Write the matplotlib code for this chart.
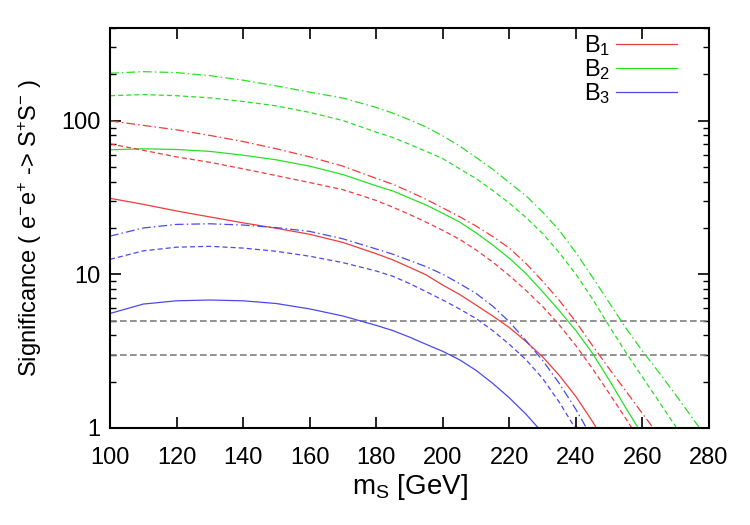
import numpy as np
import matplotlib
matplotlib.use('Agg')
import matplotlib.pyplot as plt

plt.rcParams['font.family'] = ['Liberation Sans', 'DejaVu Sans']
plt.rcParams['mathtext.fontset'] = 'custom'
plt.rcParams['mathtext.rm'] = 'Liberation Sans'
plt.rcParams['mathtext.it'] = 'Liberation Sans:italic'
plt.rcParams['mathtext.default'] = 'regular'

# scalar mass (GeV): coarse at low mass, finer where the curves fall off
mass = [100, 110, 120, 130, 140, 150, 160, 170,
        180, 185, 190, 195, 200, 205, 210, 215, 220, 225, 230,
        235, 240, 245, 250, 255, 260, 265, 270, 275, 280]
nan = np.nan

# B1 (red)
b1_solid = [31.2, 28.5, 25.8, 23.6, 21.6, 19.9, 18.2, 16.1,
            13.6, 12.4, 11.1, 9.9, 8.5, 7.4, 6.3, 5.35, 4.5, 3.65, 2.9,
            2.2, 1.6, 1.1, 0.72, nan, nan, nan, nan, nan, nan]
b1_dashed = [70.5, 64, 58, 53.5, 48.5, 43.8, 39.5, 35.5,
             30.2, 27.3, 24.5, 21.8, 19.3, 16.9, 14.4, 12.0, 9.8, 7.85, 6.17,
             4.68, 3.43, 2.43, 1.68, 1.15, 0.78, nan, nan, nan, nan]
b1_dashdot = [99.5, 93, 87, 80, 73, 65.5, 58, 50.5,
              42, 38.5, 34.5, 30.7, 27, 23.7, 20.6, 17.6, 14.8, 11.75, 9.0,
              6.76, 4.9, 3.43, 2.43, 1.74, 1.24, 0.89, nan, nan, nan]
# B2 (green)
b2_solid = [64.5, 65.5, 64.8, 63, 59.5, 55.5, 50.5, 44.5,
            37.6, 34.8, 31.3, 28.2, 24.9, 21.9, 18.6, 15.5, 12.7, 10.1, 7.7,
            5.8, 4.3, 3.05, 2.05, 1.35, 0.9, nan, nan, nan, nan]
b2_dashed = [145, 147.5, 145, 140.5, 133, 124.5, 113, 100,
             84, 77.5, 70, 63, 56.5, 48.6, 41.9, 35.1, 29.0, 23.4, 18.4,
             13.8, 10, 6.9, 4.6, 3.1, 2.14, 1.48, 1.02, 0.71, 0.49]
b2_dashdot = [203, 208, 205, 196, 183, 168, 153, 140,
              121.6, 111.7, 101, 90.8, 79.4, 68.4, 57.5, 48.2, 39.4, 32.4, 25.4,
              19.3, 13.8, 9.55, 6.53, 4.47, 3.16, 2.29, 1.64, 1.16, 0.82]
# B3 (blue)
b3_solid = [5.56, 6.4, 6.72, 6.8, 6.72, 6.45, 5.95, 5.35,
            4.65, 4.3, 3.9, 3.5, 3.15, 2.78, 2.37, 1.95, 1.57, 1.23, 0.93,
            nan, nan, nan, nan, nan, nan, nan, nan, nan, nan]
b3_dashed = [12.5, 14.2, 15.0, 15.2, 14.8, 14.1, 13.1, 11.9,
             10.5, 9.7, 8.7, 7.7, 6.8, 5.95, 5.15, 4.3, 3.5, 2.78, 2.1,
             1.47, 0.98, 0.62, nan, nan, nan, nan, nan, nan, nan]
b3_dashdot = [17.7, 20.0, 21.1, 21.3, 20.9, 20.1, 19.0, 17.0,
              14.6, 13.5, 12.3, 11.2, 10, 8.7, 7.5, 6.2, 4.9, 3.7, 2.75,
              1.95, 1.32, 0.85, nan, nan, nan, nan, nan, nan, nan]

thresholds = [5, 3]

red, green, blue = '#f03c3c', '#28e028', '#4a4af0'
dashed = (0, (4, 2.5))
dashdot = (0, (7, 2.5, 1.2, 2.5))

fig = plt.figure(figsize=(7.5, 5.25), dpi=100)
ax = fig.add_axes([0.1467, 0.1848, 0.7987, 0.7619])

for y in thresholds:
    ax.axhline(y, color='#808080', lw=1.2, ls=(0, (4, 2)))

lw = 0.9
ax.plot(mass, b1_solid, color=red, lw=lw, label='B$_1$')
ax.plot(mass, b2_solid, color=green, lw=lw, label='B$_2$')
ax.plot(mass, b3_solid, color=blue, lw=lw, label='B$_3$')
ax.plot(mass, b1_dashed, color=red, lw=lw, ls=dashed)
ax.plot(mass, b2_dashed, color=green, lw=lw, ls=dashed)
ax.plot(mass, b3_dashed, color=blue, lw=lw, ls=dashed)
ax.plot(mass, b1_dashdot, color=red, lw=lw, ls=dashdot)
ax.plot(mass, b2_dashdot, color=green, lw=lw, ls=dashdot)
ax.plot(mass, b3_dashdot, color=blue, lw=lw, ls=dashdot)

ax.set_yscale('log')
ax.set_xlim(100, 280)
ax.set_ylim(1, 400)
ax.set_xticks(range(100, 281, 20))
ax.set_yticks([1, 10, 100])
ax.set_yticklabels(['1', '10', '100'])
ax.tick_params(which='both', direction='in', top=True, right=True, labelsize=17)
ax.tick_params(which='major', length=8, width=1.2)
ax.tick_params(which='minor', length=4, width=1.0)
ax.tick_params(axis='x', which='major', pad=14)
ax.tick_params(axis='y', which='major', pad=7)
for s in ax.spines.values():
    s.set_linewidth(1.5)

ax.set_xlabel('m$_S$ [GeV]', fontsize=20, labelpad=2)
ax.set_ylabel('Significance ( e$^{-}$e$^{+}$ -> S$^{+}$S$^{-}$ )', fontsize=17, labelpad=12)

ax.legend(loc='upper right', frameon=False, markerfirst=False, fontsize=17,
          handlelength=2.6, handletextpad=0.25, labelspacing=-0.05,
          borderaxespad=0.0, bbox_to_anchor=(0.963, 1.01))

fig.savefig('out.png', dpi=100)
